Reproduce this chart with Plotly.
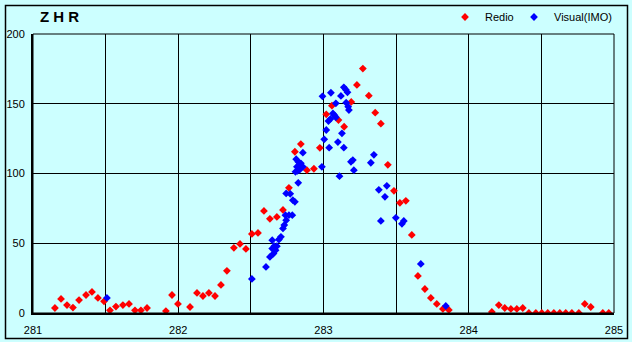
import plotly.graph_objects as go

# Radio (red) ZHR observations
redio_x = [281.151, 281.193, 281.234, 281.275, 281.317, 281.365, 281.406, 281.447, 281.489, 281.530,
           281.571, 281.619, 281.661, 281.702, 281.743, 281.785, 281.915, 281.957, 281.998, 282.081,
           282.129, 282.170, 282.211, 282.253, 282.294, 282.335, 282.383, 282.425, 282.466, 282.507,
           282.549, 282.590, 282.631, 282.679, 282.721, 282.762, 282.803, 282.844, 282.886, 282.934,
           282.975, 283.019, 283.058, 283.103, 283.142, 283.191, 283.230, 283.271, 283.312, 283.356,
           283.395, 283.443, 283.485, 283.526, 283.567, 283.608, 283.650, 283.698, 283.739, 283.780,
           283.822, 283.863, 284.159, 284.207, 284.248, 284.290, 284.331, 284.372, 284.414, 284.462,
           284.503, 284.544, 284.586, 284.627, 284.668, 284.710, 284.758, 284.799, 284.840, 284.923,
           284.964]
redio_y = [3.6, 10.1, 5.7, 3.9, 9.3, 12.9, 15.1, 10.8, 8.4, 1.9,
           4.6, 5.7, 6.5, 1.9, 1.9, 3.6, 1.4, 12.9, 6.5, 4.3,
           14.4, 12.2, 14.4, 12.2, 20.1, 30.2, 46.7, 49.5, 45.9, 56.7,
           57.4, 73.2, 67.5, 68.9, 73.9, 89.7, 115.6, 121.1, 102.4, 103.4,
           118.4, 142.4, 148.6, 138.3, 133.5, 151.3, 163.5, 175.2, 155.8, 143.6,
           135.7, 106.2, 87.6, 79.0, 80.4, 56.0, 26.6, 17.2, 10.8, 6.5,
           2.9, 2.2, 0.7, 5.7, 3.6, 2.9, 2.9, 3.6, 0, 0,
           0, 0, 0, 0, 0, 0, 0, 6.5, 4.3, 0,
           0]

# Visual (IMO) ZHR observations
visual_x = [281.509, 282.507, 282.604, 282.631, 282.647, 282.661, 282.670, 282.679, 282.647, 282.656,
            282.693, 282.707, 282.721, 282.730, 282.743, 282.738, 282.762, 282.785, 282.789, 282.803,
            282.743, 282.771, 282.826, 282.807, 282.821, 282.835, 282.817, 282.831, 282.844, 282.858,
            282.812, 282.826, 282.858, 282.993, 283.051, 283.120, 283.140, 283.154, 283.165, 283.085,
            283.156, 283.170, 283.175, 283.065, 283.076, 283.085, 283.048, 283.034, 283.019, 283.127,
            283.005, 283.099, 283.039, 283.140, 283.202, 283.189, 282.989, 283.209, 283.110, 283.347,
            283.326, 283.381, 283.436, 283.423, 283.395, 283.498, 283.553, 283.540, 283.670, 283.842]
visual_y = [10.8, 24.4, 33.0, 40.2, 52.2, 47.9, 45.0, 47.9, 46.2, 42.6,
            52.7, 54.6, 60.6, 63.0, 66.5, 70.1, 70.1, 70.1, 80.9, 79.7,
            85.7, 85.4, 93.3, 101.2, 101.9, 102.7, 104.8, 106.0, 107.3, 104.8,
            110.3, 108.4, 114.9, 155.3, 157.9, 155.6, 161.8, 160.1, 158.2, 150.3,
            150.8, 147.9, 145.5, 143.1, 141.7, 140.3, 139.1, 137.6, 131.2, 128.8,
            124.5, 122.5, 118.5, 118.5, 109.6, 108.4, 104.8, 102.4, 98.1, 113.4,
            107.7, 88.3, 91.2, 83.3, 66.0, 68.2, 66.0, 63.9, 35.2, 5.0]

x_ticks = [281, 282, 283, 284, 285]
y_ticks = [0, 50, 100, 150, 200]

BG = "#CCFFFF"
FONT = "Liberation Sans, Arial, sans-serif"

fig = go.Figure()
fig.add_trace(go.Scatter(x=redio_x, y=redio_y, mode="markers", name="Redio", legend="legend",
                         marker=dict(symbol="diamond", size=6, color="#FF0000", line=dict(width=0))))
fig.add_trace(go.Scatter(x=visual_x, y=visual_y, mode="markers", name="Visual(IMO)", legend="legend2",
                         marker=dict(symbol="diamond", size=6, color="#0000FF", line=dict(width=0))))

W, H = 632, 342
L, R, T, B = 33, 18, 34, 29
pw, ph = W - L - R, H - T - B

def px(xp):
    return (xp - L) / pw

def py(yp):
    return (H - B - yp) / ph

legend_common = dict(orientation="h", y=py(17), xanchor="left", yanchor="middle",
                     bgcolor="rgba(0,0,0,0)", font=dict(size=11, family=FONT), itemwidth=30)

fig.update_layout(
    width=W, height=H,
    margin=dict(l=L, r=R, t=T, b=B, pad=0, autoexpand=False),
    paper_bgcolor=BG, plot_bgcolor=BG,
    font=dict(family=FONT, size=11, color="#000000"),
    showlegend=True,
    legend=dict(x=px(445), **legend_common),
    legend2=dict(x=px(514), **legend_common),
    xaxis=dict(range=[281, 285], tickvals=x_ticks, ticktext=[str(v) for v in x_ticks],
               showgrid=True, gridcolor="#000000", gridwidth=1,
               minor=dict(dtick=0.5, tick0=281, showgrid=True, gridcolor="#000000", gridwidth=1),
               showline=True, linecolor="#000000", linewidth=2,
               ticks="", ticklabelstandoff=6, zeroline=False, automargin=False,
               tickfont=dict(size=11, family=FONT)),
    yaxis=dict(range=[0, 200], tickvals=y_ticks, showgrid=True, gridcolor="#000000", gridwidth=1,
               showline=True, linecolor="#000000", linewidth=2,
               ticks="inside", ticklen=5, tickcolor="#000000", ticklabelstandoff=4,
               zeroline=False, automargin=False, tickfont=dict(size=11, family=FONT)),
    annotations=[dict(text="<b>Z H R</b>", xref="paper", yref="paper", x=px(38), y=py(17),
                      xanchor="left", yanchor="middle", showarrow=False,
                      font=dict(size=15, family=FONT, color="#000000"))],
    shapes=[
        dict(type="rect", xref="paper", yref="paper", x0=0, x1=1, y0=0, y1=1,
             line=dict(color="#000000", width=1), fillcolor="rgba(0,0,0,0)", layer="above"),
        dict(type="rect", xref="paper", yref="paper", x0=px(5.5), x1=px(627.5),
             y0=py(338.5), y1=py(5.5), line=dict(color="#000000", width=1.5),
             fillcolor="rgba(0,0,0,0)", layer="above"),
    ],
)

fig.write_html("out.html", config={"displayModeBar": False},
               post_script="document.body.style.margin='0';document.body.style.overflow='hidden';")
